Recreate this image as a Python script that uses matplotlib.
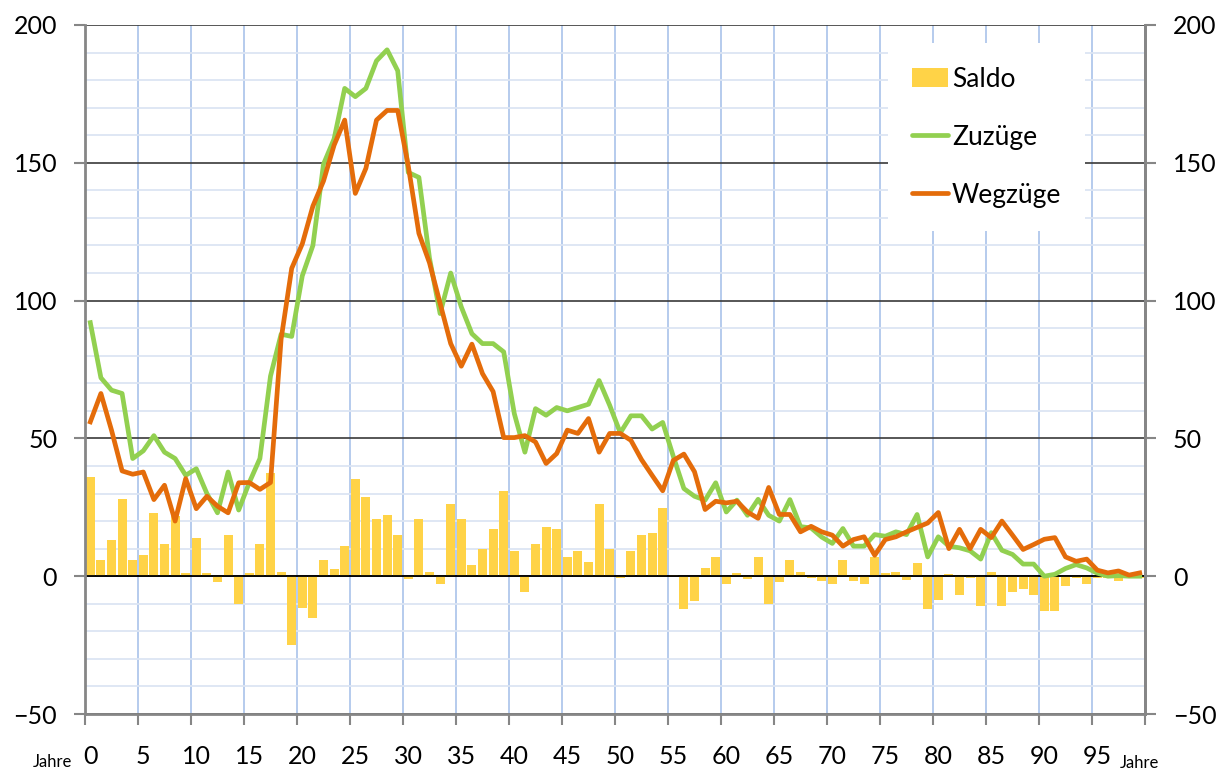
import matplotlib
matplotlib.use("Agg")
import matplotlib.pyplot as plt
import numpy as np
from matplotlib.patches import Patch
from matplotlib.lines import Line2D

plt.rcParams['font.family'] = ['Lato', 'DejaVu Sans']

# age in years (0..99)
ages = list(range(100))

zuzuege = [92, 72, 67.5, 66.3, 42.7, 45.5, 51, 45, 42.7, 36.6,
           39, 30, 23, 37.8, 24, 34, 42.7, 72.6, 87.8, 87,
           109, 120, 149.5, 158.7, 177, 174, 177, 187, 191, 183.4,
           146.5, 144.7, 115.4, 95.3, 110, 97.7, 88, 84.4, 84.4, 81.4,
           59, 45, 60.8, 58.4, 61.2, 60, 61.2, 62.4, 71, 62,
           52, 58.2, 58.2, 53.4, 55.8, 43.5, 31.8, 29, 27.6, 33.9,
           23.3, 27.6, 22.1, 27.9, 22.1, 20, 27.8, 18, 17.5, 14.2,
           11.9, 17.3, 10.9, 10.9, 15.1, 14.5, 16.1, 15.1, 22.4, 7,
           14.3, 10.9, 10.3, 9.2, 6.2, 15.8, 9.4, 7.9, 4.4, 4.4,
           0, 0.7, 2.8, 4.2, 3, 1.1, 0, 0.2, 0, 0]

wegzuege = [56, 66.3, 53, 38.2, 37, 37.8, 27.8, 33, 20, 35.4,
            24.5, 29, 25.4, 23, 33.9, 34, 31.5, 34, 86, 111.7,
            120.6, 134.3, 143.4, 156.4, 165.5, 138.9, 148, 165.5, 169, 169,
            148.8, 124.4, 113.7, 99, 84.4, 76.2, 84.2, 73.5, 67, 50.3,
            50.3, 51, 48.7, 40.9, 44.5, 53, 51.8, 57.2, 45, 51.8,
            51.8, 49.3, 42.3, 36.6, 31, 42, 44.3, 37.9, 24.2, 27.2,
            26.6, 27.2, 23.3, 21, 32.2, 22.4, 22.4, 16.1, 18.1, 16.1,
            14.9, 10.9, 13.3, 14.3, 7.6, 13.3, 14.3, 16.1, 17.7, 19.3,
            23.1, 10, 17, 10, 17, 14, 20, 14.9, 9.7, 11.5,
            13.4, 14, 7, 5.4, 6.2, 2.2, 1.2, 1.9, 0.4, 1.2]

saldo = [36, 5.8, 13, 28, 5.8, 7.6, 23, 11.6, 22, 1,
         14, 1, -2, 14.9, -10.2, 1, 11.6, 37.5, 1.7, -25,
         -11.7, -15, 5.8, 2.7, 10.8, 35.2, 28.7, 20.6, 22.1, 14.8,
         -1, 20.6, 1.7, -2.9, 26.1, 20.6, 4, 9.8, 17, 31,
         9.1, -5.9, 11.6, 17.9, 17, 6.8, 9.1, 5, 26.1, 9.9,
         -0.8, 9.1, 14.9, 15.8, 24.8, 0.5, -12, -9, 2.8, 6.8,
         -2.9, 1, -1.1, 6.8, -10.2, -2, 5.8, 1.6, -0.8, -1.8,
         -2.9, 5.8, -1.8, -2.9, 6.8, 1, 1.6, -1.2, 4.8, -11.8,
         -8.7, 0.7, -6.9, -0.8, -10.9, 1.6, -10.9, -5.9, -4.7, -6.9,
         -12.7, -12.7, -3.6, -0.8, -2.9, -0.8, -0.8, -1.8, 0, -0.8]

BAR = '#FFD347'
GREEN = '#92D050'
ORANGE = '#E46C0A'
AXIS_GREY = '#868686'
LW = 3.4

x = np.array(ages) + 0.5

fig = plt.figure(figsize=(12.28, 7.72), dpi=100)
ax = fig.add_axes([85 / 1228, 1 - 714 / 772, 1060 / 1228, 689 / 772])

ax.bar(x, saldo, width=0.85, color=BAR, zorder=2)
ax.axhline(0, color='black', lw=1.3, zorder=2.5)
ax.plot(x, zuzuege, color=GREEN, lw=LW, zorder=3, solid_joinstyle='round')
ax.plot(x, wegzuege, color=ORANGE, lw=LW, zorder=4, solid_joinstyle='round')

ax.set_xlim(0, 100)
ax.set_ylim(-50, 200)

# y grid: dark major lines every 50, light blue minor every 10
ax.set_yticks(np.arange(-50, 201, 50))
ax.set_yticks(np.arange(-50, 201, 10), minor=True)
ax.yaxis.grid(True, which='major', color='#3A3A3A', lw=1.2)
ax.yaxis.grid(True, which='minor', color='#DCE5F3', lw=1.3)
ax.tick_params(axis='y', which='minor', length=0)
ax.tick_params(axis='y', which='major', length=8, width=1.5, color=AXIS_GREY,
               labelsize=18, pad=12)

# x: tick marks / gridlines on the boundaries, labels at category centres
ax.set_xticks(np.arange(0, 101, 5))
ax.set_xticklabels([])
ax.set_xticks(np.arange(0, 100, 5) + 0.5, minor=True)
ax.set_xticklabels([str(a) for a in range(0, 100, 5)], minor=True)
ax.xaxis.grid(True, which='major', color='#A9C2EA', lw=1.2)
ax.tick_params(axis='x', which='major', length=8, width=1.5, color=AXIS_GREY)
ax.tick_params(axis='x', which='minor', length=0, labelsize=18, pad=22)
ax.set_axisbelow(True)

for side in ['left', 'bottom', 'right']:
    ax.spines[side].set_color(AXIS_GREY)
    ax.spines[side].set_linewidth(2)
ax.spines['top'].set_visible(False)

# right axis mirrors the left one
ax2 = ax.twinx()
ax2.set_ylim(-50, 200)
ax2.set_yticks(np.arange(-50, 201, 50))
ax2.tick_params(axis='y', length=8, width=1.5, color=AXIS_GREY, labelsize=18, pad=12)
for side in ['left', 'bottom', 'top']:
    ax2.spines[side].set_visible(False)
ax2.spines['right'].set_color(AXIS_GREY)
ax2.spines['right'].set_linewidth(2)

handles = [Patch(facecolor=BAR, edgecolor='none'),
           Line2D([], [], color=GREEN, lw=LW, solid_capstyle='round'),
           Line2D([], [], color=ORANGE, lw=LW, solid_capstyle='round')]
leg = ax2.legend(handles, ['Saldo', 'Zuzüge', 'Wegzüge'], loc='upper left',
                 bbox_to_anchor=(0.758, 0.974), frameon=True, fancybox=False,
                 framealpha=1, edgecolor='none', fontsize=19,
                 handlelength=1.35, handletextpad=0.15, labelspacing=1.25,
                 borderpad=0.9, borderaxespad=0)

fig.text(33 / 1228, 1 - 767 / 772, 'Jahre', fontsize=12, ha='left', va='baseline')
fig.text(1120 / 1228, 1 / 772, 'Jahre', fontsize=12, ha='left', va='bottom')

fig.savefig('out.png', dpi=100)
